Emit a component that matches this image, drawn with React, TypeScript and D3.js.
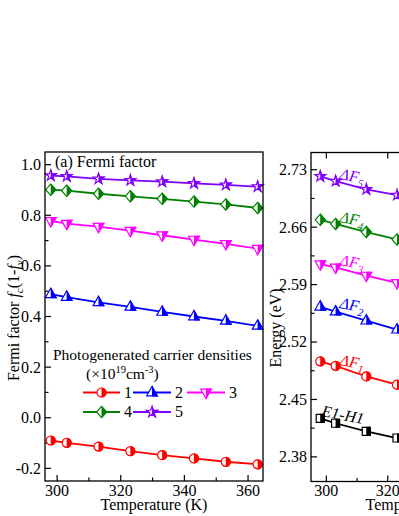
import React from "react";
import * as d3 from "d3";

const tempsA = [298, 303, 313, 323, 333, 343, 353, 363];
const fermi1 = [-0.09, -0.099, -0.114, -0.132, -0.148, -0.161, -0.174, -0.184];
const fermi2 = [0.488, 0.477, 0.456, 0.438, 0.418, 0.4, 0.383, 0.363];
const fermi3 = [0.778, 0.767, 0.755, 0.739, 0.721, 0.704, 0.687, 0.668];
const fermi4 = [0.901, 0.897, 0.885, 0.875, 0.865, 0.854, 0.843, 0.829];
const fermi5 = [0.957, 0.954, 0.944, 0.938, 0.933, 0.926, 0.92, 0.913];
const legendNames = ["1", "2", "3", "4", "5"];

const tempsB = [298, 303, 313, 323];
const dF5 = [2.722, 2.716, 2.706, 2.699];
const dF4 = [2.669, 2.664, 2.654, 2.645];
const dF3 = [2.615, 2.611, 2.601, 2.592];
const dF2 = [2.563, 2.557, 2.546, 2.535];
const dF1 = [2.4965, 2.491, 2.478, 2.468];
const e1h1 = [2.427, 2.421, 2.411, 2.403];

const yTicksA = [-0.2, 0.0, 0.2, 0.4, 0.6, 0.8, 1.0];
const yTicksB = [2.38, 2.45, 2.52, 2.59, 2.66, 2.73];
const xTicks = [300, 320, 340, 360];

const FONT = '"Liberation Serif", "Times New Roman", Times, serif';
const RED = "#ff0000", BLUE = "#0000ff", MAG = "#ff00ff", GREEN = "#008000", PURP = "#8000ff";

type Shape = "circle" | "up" | "down" | "diamond" | "star" | "square";

function shapePath(s: Shape): string {
  switch (s) {
    case "circle": return d3.symbol(d3.symbolCircle, 64)()!;
    case "up": return "M0,-6L5.3,3.3L-5.3,3.3Z";
    case "down": return "M0,6L5.3,-3.3L-5.3,-3.3Z";
    case "diamond": return "M0,-5.6L5,0L0,5.6L-5,0Z";
    case "star": return d3.symbol(d3.symbolStar, 36)()!;
    case "square": return "M-4,-4L4,-4L4,4L-4,4Z";
  }
}

function Marker({ x, y, shape, color }: { x: number; y: number; shape: Shape; color: string }) {
  const p = shapePath(shape);
  return (
    <g transform={`translate(${x},${y})`}>
      <path d={p} fill="#fff" stroke={color} strokeWidth={1.2} />
      <path d={p} fill={color} stroke={color} strokeWidth={1.2} clipPath="url(#halfR)" />
    </g>
  );
}

function Series({ xs, ys, sx, sy, shape, color }: any) {
  const line = d3.line<number>().x((_, i) => sx(xs[i])).y((d) => sy(d));
  return (
    <g>
      <path d={line(ys)!} fill="none" stroke={color} strokeWidth={1.8} />
      {ys.map((v: number, i: number) => (
        <Marker key={i} x={sx(xs[i])} y={sy(v)} shape={shape} color={color} />
      ))}
    </g>
  );
}

export default function App() {
  const ax = d3.scaleLinear().domain([296.2, 364.7]).range([45, 263]);
  const ay = d3.scaleLinear().domain([-0.25, 1.05]).range([481, 152]);
  const bx = d3.scaleLinear().domain([295, 366]).range([311, 529]);
  const by = d3.scaleLinear().domain([2.35, 2.751]).range([481.5, 152.5]);

  const minorA = d3.range(-0.2, 1.05, 0.1).map((v) => +v.toFixed(2));
  const minorB = d3.range(2.38, 2.75, 0.035).map((v) => +v.toFixed(3));
  const xMinor = d3.range(300, 366, 10);

  const seriesA = [
    { ys: fermi1, shape: "circle", color: RED },
    { ys: fermi2, shape: "up", color: BLUE },
    { ys: fermi3, shape: "down", color: MAG },
    { ys: fermi4, shape: "diamond", color: GREEN },
    { ys: fermi5, shape: "star", color: PURP },
  ];
  const seriesB = [
    { ys: e1h1, shape: "square", color: "#000" },
    { ys: dF1, shape: "circle", color: RED },
    { ys: dF2, shape: "up", color: BLUE },
    { ys: dF3, shape: "down", color: MAG },
    { ys: dF4, shape: "diamond", color: GREEN },
    { ys: dF5, shape: "star", color: PURP },
  ];

  const legendPos = [
    { x1: 83, x2: 120, y: 392.5, tx: 124 },
    { x1: 133, x2: 171, y: 392.5, tx: 175 },
    { x1: 187, x2: 225, y: 392.5, tx: 229 },
    { x1: 83, x2: 120, y: 412, tx: 124 },
    { x1: 133, x2: 171, y: 412, tx: 175 },
  ];

  const annots = [
    { x: 339, y: 179, sub: "5", color: PURP },
    { x: 339, y: 222, sub: "4", color: GREEN },
    { x: 339, y: 265, sub: "3", color: MAG },
    { x: 339, y: 308, sub: "2", color: BLUE },
    { x: 339, y: 365, sub: "1", color: RED },
  ];

  const ts = { fontFamily: FONT };

  return (
    <svg width={399} height={516} style={{ position: "absolute", left: 0, top: 0, background: "#fff", fontFamily: FONT }}>
      <defs>
        <clipPath id="halfR">
          <rect x={0} y={-10} width={10} height={20} />
        </clipPath>
      </defs>
      <rect width={399} height={516} fill="#fff" />

      {/* Panel (a) */}
      <g>
        {minorA.map((v) => {
          const major = yTicksA.some((t) => Math.abs(t - v) < 1e-6);
          return <line key={"ma" + v} x1={45} x2={45 + (major ? 6 : 3.5)} y1={ay(v)} y2={ay(v)} stroke="#000" strokeWidth={1.2} />;
        })}
        {xMinor.map((v) => {
          const major = xTicks.includes(v);
          return <line key={"xa" + v} x1={ax(v)} x2={ax(v)} y1={481} y2={481 - (major ? 6 : 3.5)} stroke="#000" strokeWidth={1.2} />;
        })}
        {yTicksA.map((v) => (
          <text key={"ya" + v} style={ts} x={41} y={ay(v)} dy="0.34em" textAnchor="end" fontSize={16}>
            {v.toFixed(1)}
          </text>
        ))}
        {xTicks.map((v) => (
          <text key={"xt" + v} style={ts} x={ax(v)} y={496} textAnchor="middle" fontSize={16}>{v}</text>
        ))}
        <text style={ts} x={154} y={510} textAnchor="middle" fontSize={16}>Temperature (K)</text>
        <text style={ts} transform="translate(19,318) rotate(-90)" textAnchor="middle" fontSize={16}>
          Fermi factor <tspan fontStyle="italic">f</tspan>
          <tspan fontStyle="italic" fontSize={11} dy={4}>c</tspan>
          <tspan dy={-4}>(1-</tspan>
          <tspan fontStyle="italic">f</tspan>
          <tspan fontStyle="italic" fontSize={11} dy={4}>v</tspan>
          <tspan dy={-4}>)</tspan>
        </text>
        <text style={ts} x={55} y={167} fontSize={16}>(a) Fermi factor</text>

        {seriesA.map((s, i) => (
          <Series key={i} xs={tempsA} ys={s.ys} sx={ax} sy={ay} shape={s.shape} color={s.color} />
        ))}

        <text style={ts} x={53} y={360} fontSize={15.5}>Photogenerated carrier densities</text>
        <text style={ts} x={86} y={379} fontSize={15.5}>
          (×10<tspan fontSize={10.5} dy={-6}>19</tspan>
          <tspan dy={6}>cm</tspan>
          <tspan fontSize={10.5} dy={-6}>-3</tspan>
          <tspan dy={6}>)</tspan>
        </text>
        {legendPos.map((p, i) => (
          <g key={"lg" + i}>
            <line x1={p.x1} x2={p.x2} y1={p.y} y2={p.y} stroke={seriesA[i].color} strokeWidth={1.8} />
            <Marker x={(p.x1 + p.x2) / 2} y={p.y} shape={seriesA[i].shape as Shape} color={seriesA[i].color} />
            <text style={ts} x={p.tx} y={p.y} dy="0.34em" fontSize={16}>{legendNames[i]}</text>
          </g>
        ))}
        <rect x={45} y={152} width={218} height={329} fill="none" stroke="#000" strokeWidth={1.3} />
      </g>

      {/* Panel (b) */}
      <g>
        {minorB.map((v) => {
          const major = yTicksB.some((t) => Math.abs(t - v) < 1e-6);
          return <line key={"mb" + v} x1={311} x2={311 + (major ? 6 : 3.5)} y1={by(v)} y2={by(v)} stroke="#000" strokeWidth={1.2} />;
        })}
        {xMinor.map((v) => {
          const major = xTicks.includes(v);
          return <line key={"xb" + v} x1={bx(v)} x2={bx(v)} y1={481.5} y2={481.5 - (major ? 6 : 3.5)} stroke="#000" strokeWidth={1.2} />;
        })}
        {xTicks.map((v) => (
          <line key={"xbt" + v} x1={bx(v)} x2={bx(v)} y1={152.5} y2={158.5} stroke="#000" strokeWidth={1.2} />
        ))}
        {yTicksB.map((v) => (
          <text key={"yb" + v} style={ts} x={307} y={by(v)} dy="0.34em" textAnchor="end" fontSize={16}>
            {v.toFixed(2)}
          </text>
        ))}
        {xTicks.filter((v) => bx(v) < 399).map((v) => (
          <text key={"xbl" + v} style={ts} x={bx(v)} y={496} textAnchor="middle" fontSize={16}>{v}</text>
        ))}
        <text style={ts} x={419} y={510} textAnchor="middle" fontSize={16}>Temperature (K)</text>
        <text style={ts} transform="translate(281,328) rotate(-90)" textAnchor="middle" fontSize={16}>Energy (eV)</text>

        {seriesB.map((s, i) => (
          <Series key={i} xs={tempsB} ys={s.ys} sx={bx} sy={by} shape={s.shape} color={s.color} />
        ))}

        {annots.map((a, i) => (
          <text key={"an" + i} style={ts} transform={`translate(${a.x},${a.y}) rotate(11)`} fontSize={16} fill={a.color} fontStyle="italic">
            ΔF<tspan fontSize={11} dy={4}>{a.sub}</tspan>
          </text>
        ))}
        <text style={ts} transform="translate(321,416) rotate(11)" fontSize={16} fontStyle="italic" fill="#000">E1-H1</text>

        <rect x={311} y={152.5} width={218} height={329} fill="none" stroke="#000" strokeWidth={1.3} />
      </g>
    </svg>
  );
}
